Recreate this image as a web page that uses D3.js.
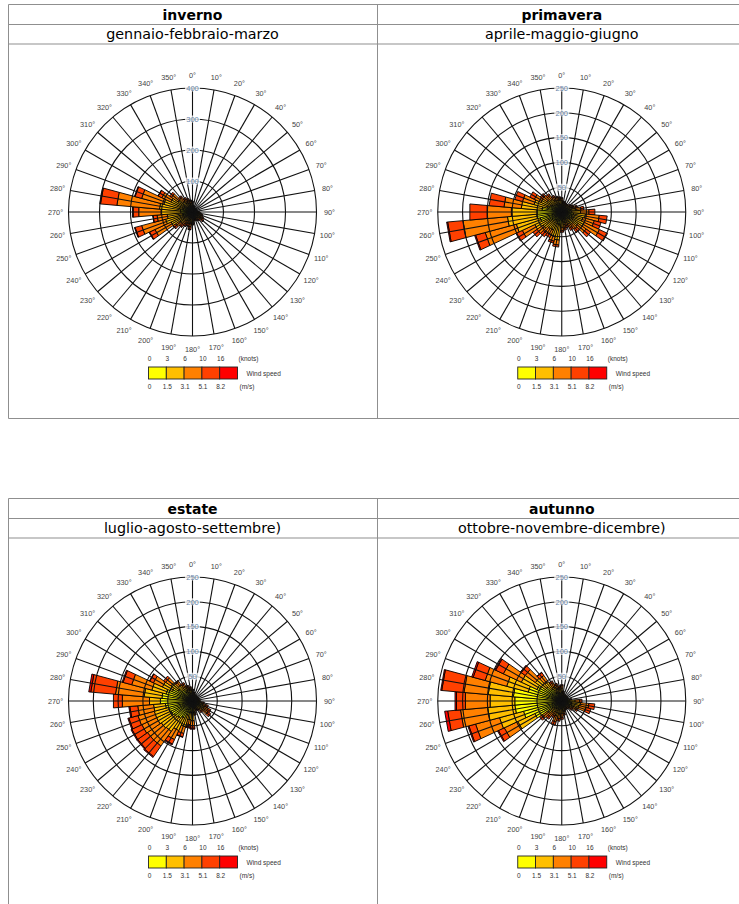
<!DOCTYPE html>
<html>
<head>
<meta charset="utf-8">
<script src="https://cdn.jsdelivr.net/npm/d3@7"></script>
<style>
  body { margin: 0; background: #fff; }
  text { font-family: "Liberation Sans", Arial, sans-serif; }
</style>
</head>
<body>
<svg id="chart" width="739" height="904"></svg>
<script>
const directions = [0,10,20,30,40,50,60,70,80,90,100,110,120,130,140,150,160,170,
  180,190,200,210,220,230,240,250,260,270,280,290,300,310,320,330,340,350];
const speedKnots = ['0', '3', '6', '10', '16'];
const speedMs = ['0', '1.5', '3.1', '5.1', '8.2'];
const speedColors = ['#ffff00', '#ffbf00', '#ff8000', '#ff4000', '#ff0000'];

const seasonNames = ['inverno', 'primavera', 'estate', 'autunno'];
const seasonMonths = ['gennaio-febbraio-marzo', 'aprile-maggio-giugno',
  'luglio-agosto-settembre)', 'ottobre-novembre-dicembre)'];
const seasonRings = [[100, 200, 300, 400], [50, 100, 150, 200, 250],
  [50, 100, 150, 200, 250], [50, 100, 150, 200, 250]];

// counts per speed class (0-3, 3-6, 6-10, 10-16, >16 knots), one value per direction
const invY  = [15,12,10,10,10,9,9,9,10,12,14,16,16,16,14,14,13,14,16,18,16,16,17,19,26,32,32,38,39,32,29,23,19,17,16,15];
const invG  = [12,7,5,4,4,4,4,4,5,6,8,10,12,12,10,9,8,9,12,16,14,15,18,30,50,58,50,64,68,64,48,34,24,18,15,13];
const invO  = [6,3,1,1,1,1,1,1,2,3,4,6,8,10,7,6,5,5,8,14,10,12,15,18,58,80,33,72,138,74,32,26,15,12,10,8];
const invOR = [2,0,0,0,0,0,0,0,0,1,2,3,4,6,4,3,2,2,5,9,7,8,10,9,19,22,13,18,53,22,13,7,6,5,4,3];
const invR  = [0,0,0,0,0,0,0,0,0,0,0,0,0,1,0,0,0,0,1,1,1,1,1,1,2,2,1,2,2,2,1,0,0,0,0,0];

const priY  = [14,12,11,11,11,12,13,15,17,20,24,22,24,20,17,16,14,15,17,25,24,20,20,24,30,45,51,50,40,30,24,20,18,16,15,15];
const priG  = [9,6,6,5,5,6,7,9,12,18,24,22,26,20,14,11,9,11,14,32,28,20,21,22,30,50,59,52,42,28,22,16,14,11,10,9];
const priO  = [4,3,2,2,2,3,4,6,10,17,28,24,34,20,12,9,6,7,7,10,9,11,12,15,28,65,90,49,35,24,15,11,9,7,6,5];
const priOR = [2,1,1,1,1,1,2,3,6,12,16,14,18,11,8,5,4,4,3,4,4,6,8,10,14,20,31,35,30,16,10,6,4,3,2,2];
const priR  = [0,0,0,0,0,0,0,0,0,0,0,0,0,0,0,0,0,0,0,0,0,0,0,0,0,2,2,0,0,0,0,0,0,0,0,0];

const estY  = [14,11,9,9,9,9,9,9,9,10,12,14,15,16,13,11,10,14,22,22,30,38,42,45,48,50,55,65,62,55,45,35,28,22,18,16];
const estG  = [6,4,3,3,3,3,3,3,3,4,6,8,10,11,8,6,5,8,18,16,24,28,33,32,32,30,24,22,36,30,22,18,12,10,8,7];
const estO  = [3,2,2,2,1,1,1,2,2,2,4,7,10,11,5,3,3,5,10,10,14,20,36,34,33,34,32,55,58,42,20,13,8,6,5,4];
const estOR = [1,1,0,0,0,0,0,0,0,0,2,4,6,7,3,2,2,2,5,5,7,10,26,24,22,19,16,18,50,18,8,5,3,3,2,2];
const estR  = [0,0,0,0,0,0,0,0,0,0,0,0,0,0,0,0,0,0,2,2,1,2,2,2,2,2,2,0,4,2,1,0,0,0,0,0];

const autY  = [18,11,9,9,9,9,9,9,11,16,20,19,15,12,11,10,11,13,15,16,18,15,17,20,60,80,95,95,98,70,55,40,30,20,17,15];
const autG  = [8,5,3,3,3,3,3,3,5,11,18,17,10,7,5,4,5,8,10,11,14,10,12,15,38,50,55,50,51,45,35,25,18,12,10,8];
const autO  = [5,3,2,2,2,2,2,2,3,9,17,15,8,5,3,3,3,5,8,9,12,8,10,13,30,50,55,50,49,45,40,25,15,9,7,5];
const autOR = [2,1,0,0,0,0,0,0,1,5,12,10,4,3,1,1,1,3,4,5,7,4,6,7,13,14,26,18,45,25,17,10,7,4,3,3];
const autR  = [0,0,0,0,0,0,0,0,0,0,0,0,0,0,0,0,0,0,0,0,0,0,0,0,2,2,6,3,2,3,2,2,1,0,0,0];

const seasonData = [
  [invY, invG, invO, invOR, invR],
  [priY, priG, priO, priOR, priR],
  [estY, estG, estO, estOR, estR],
  [autY, autG, autO, autOR, autR]
];

const svg = d3.select('#chart');
const colX = [8.5, 377.5, 747];
const R = 124;
const binHalf = 5;

// panel layout: header rows + content box
const panels = [
  { col: 0, top: 4.5, bottom: 418.5, cy: 212 },
  { col: 1, top: 4.5, bottom: 418.5, cy: 212 },
  { col: 0, top: 498.5, bottom: 907, cy: 701 },
  { col: 1, top: 498.5, bottom: 907, cy: 701 }
];

function pt(r, deg) {
  const a = deg * Math.PI / 180;
  return [r * Math.sin(a), -r * Math.cos(a)];
}

// table frame
[0, 2].forEach(i => {
  const p = panels[i];
  const g = svg.append('g').attr('stroke', '#8f8f8f').attr('stroke-width', 1).attr('fill', 'none');
  [p.top, p.top + 20, p.top + 39.5, p.bottom].forEach(y =>
    g.append('line').attr('x1', colX[0]).attr('x2', colX[2]).attr('y1', y).attr('y2', y));
  colX.forEach(x =>
    g.append('line').attr('x1', x).attr('x2', x).attr('y1', p.top).attr('y2', p.bottom));
});

panels.forEach((p, si) => {
  const cx = (colX[p.col] + colX[p.col + 1]) / 2 - 0.5;
  const cy = p.cy;

  svg.append('text')
    .attr('x', cx).attr('y', p.top + 15)
    .attr('text-anchor', 'middle')
    .style('font-family', '"DejaVu Sans", Verdana, sans-serif')
    .style('font-weight', 'bold').style('font-size', '14px')
    .text(seasonNames[si]);
  svg.append('text')
    .attr('x', cx).attr('y', p.top + 34.5)
    .attr('text-anchor', 'middle')
    .style('font-family', '"DejaVu Sans", Verdana, sans-serif')
    .style('font-size', '14.3px')
    .text(seasonMonths[si]);

  const rings = seasonRings[si];
  const r = d3.scaleLinear().domain([0, d3.max(rings)]).range([0, R]);
  const g = svg.append('g').attr('transform', `translate(${cx},${cy})`);

  // stacked bars
  const layers = seasonData[si];
  const bars = [];
  directions.forEach((dir, i) => {
    let acc = 0;
    layers.forEach((arr, k) => {
      const v = arr[i];
      if (v > 0) {
        bars.push({ dir, r0: acc, r1: acc + v, k });
      }
      acc += v;
    });
  });
  g.selectAll('polygon.bar')
    .data(bars)
    .join('polygon')
    .attr('class', 'bar')
    .attr('points', d => [
      pt(r(d.r0), d.dir - binHalf), pt(r(d.r1), d.dir - binHalf),
      pt(r(d.r1), d.dir + binHalf), pt(r(d.r0), d.dir + binHalf)
    ].map(q => q.join(',')).join(' '))
    .attr('fill', d => speedColors[d.k])
    .attr('stroke', '#000')
    .attr('stroke-width', 0.9);

  // grid on top
  const grid = g.append('g').attr('fill', 'none').attr('stroke', '#111').attr('stroke-width', 1.1);
  grid.selectAll('line')
    .data(directions)
    .join('line')
    .attr('x1', 0).attr('y1', 0)
    .attr('x2', d => pt(R, d)[0]).attr('y2', d => pt(R, d)[1]);
  grid.selectAll('circle')
    .data(rings)
    .join('circle')
    .attr('r', d => r(d));

  // ring labels
  rings.forEach(v => {
    g.append('rect')
      .attr('x', -7.5).attr('y', -r(v) - 3.5).attr('width', 15).attr('height', 7)
      .attr('fill', '#fff').attr('opacity', 0.75);
    g.append('text')
      .attr('x', 0).attr('y', -r(v) + 2.7)
      .attr('text-anchor', 'middle')
      .style('font-size', '7.5px').attr('fill', '#6a86a8')
      .text(v);
  });

  // direction labels
  g.selectAll('text.dir')
    .data(directions)
    .join('text')
    .attr('class', 'dir')
    .attr('x', d => pt(R + 13, d)[0])
    .attr('y', d => pt(R + 13, d)[1] + 2.6)
    .attr('text-anchor', 'middle')
    .style('font-size', '7.3px').attr('fill', '#444')
    .text(d => d + '°');

  // legend
  const lx = d3.scaleBand().domain(speedKnots).range([-44, 45]);
  const leg = g.append('g').attr('transform', `translate(0,${155})`);
  leg.selectAll('rect')
    .data(speedKnots)
    .join('rect')
    .attr('x', d => lx(d)).attr('y', 0)
    .attr('width', lx.bandwidth()).attr('height', 12)
    .attr('fill', (d, i) => speedColors[i])
    .attr('stroke', '#222').attr('stroke-width', 0.9);
  leg.selectAll('text.kn')
    .data(speedKnots)
    .join('text')
    .attr('class', 'kn')
    .attr('x', d => lx(d) + 1).attr('y', -6)
    .attr('text-anchor', 'middle')
    .style('font-size', '6.5px').attr('fill', '#333')
    .text(d => d);
  leg.selectAll('text.ms')
    .data(speedMs)
    .join('text')
    .attr('class', 'ms')
    .attr('x', (d, i) => lx(speedKnots[i]) + 1).attr('y', 22)
    .attr('text-anchor', 'middle')
    .style('font-size', '6.5px').attr('fill', '#333')
    .text(d => d);
  leg.append('text').attr('x', 46).attr('y', -6)
    .style('font-size', '6.5px').attr('fill', '#333').text('(knots)');
  leg.append('text').attr('x', 47).attr('y', 22)
    .style('font-size', '6.5px').attr('fill', '#333').text('(m/s)');
  leg.append('text').attr('x', 54).attr('y', 8.5)
    .style('font-size', '6.5px').attr('fill', '#333').text('Wind speed');
});
</script>
</body>
</html>
